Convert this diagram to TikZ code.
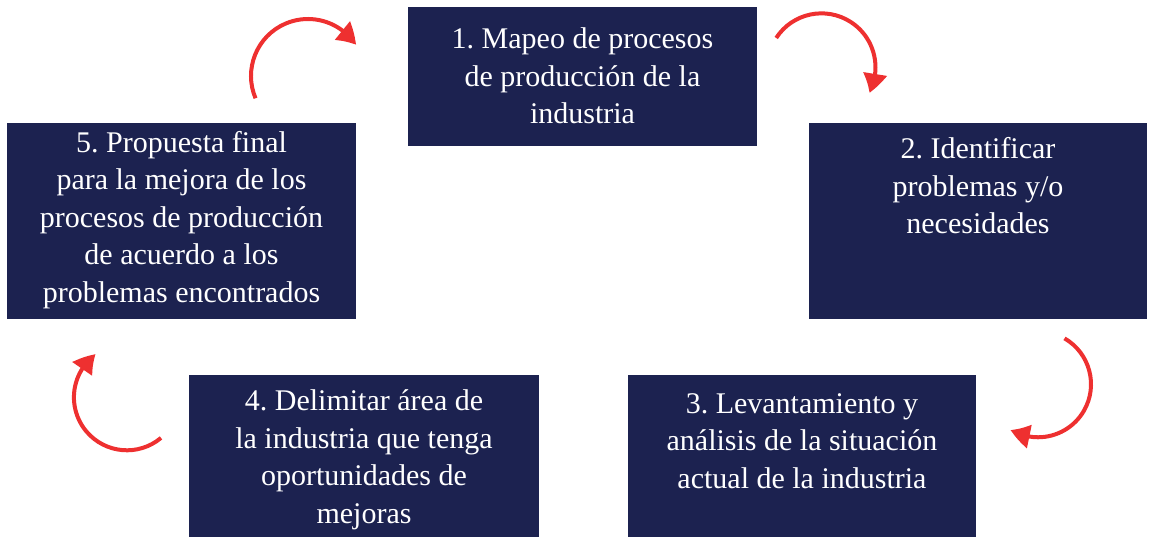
\documentclass[tikz,border=0pt]{standalone}
\usepackage{fontspec}
\setmainfont{Liberation Serif}
\frenchspacing
\usetikzlibrary{arrows.meta,bending,calc}
\definecolor{navy}{HTML}{1C2250}
\definecolor{redarr}{HTML}{EE3030}
\tikzset{
  stepbox/.style={fill=navy,draw=none},
  steptext/.style={text=white,align=center,inner sep=0pt,
    font=\fontsize{30}{37.5}\selectfont},
  cyclearrow/.style={draw=redarr,line width=4pt,
    -{Triangle[length=20pt,width=23pt,bend]}}
}
\begin{document}
\begin{tikzpicture}[x=1pt,y=-1pt]
\useasboundingbox (0,0) rectangle (1154,538);
% boxes
\fill[stepbox] (408,7) rectangle (757,146) coordinate (b1);
\fill[stepbox] (809,123) rectangle (1147,319) coordinate (b2);
\fill[stepbox] (628,375) rectangle (976,537) coordinate (b3);
\fill[stepbox] (189,375) rectangle (539,537) coordinate (b4);
\fill[stepbox] (7,123) rectangle (356,319) coordinate (b5);
% texts
\node[steptext] (t1) at (582.5,76) {1. Mapeo de procesos\\de producción de la\\industria};
\node[steptext] (t2) at (978,186) {2. Identificar\\problemas y/o\\necesidades};
\node[steptext] (t3) at (802,441) {3. Levantamiento y\\análisis de la situación\\actual de la industria};
\node[steptext] (t4) at (364,460) {4. Delimitar área de\\la industria que tenga\\oportunidades de\\mejoras};
\node[steptext] (t5) at (181.5,220) {5. Propuesta final\\para la mejora de los\\procesos de producción\\de acuerdo a los\\problemas encontrados};
% arrows
\coordinate (c1) at (308,76);
\coordinate (c2) at (824,69);
\coordinate (c3) at (1037,386);
\coordinate (c4) at (125,395);
\draw[cyclearrow] ($(c1)+(157:57)$) arc[start angle=157,end angle=327,radius=57];
\draw[cyclearrow] ($(c2)+(213:57)$) arc[start angle=213,end angle=388,radius=54];
\draw[cyclearrow] ($(c3)+(300:55)$) arc[start angle=300,end angle=481,radius=53];
\draw[cyclearrow] ($(c4)+(50:56)$) arc[start angle=50,end angle=234,radius=53];
\end{tikzpicture}
\end{document}
